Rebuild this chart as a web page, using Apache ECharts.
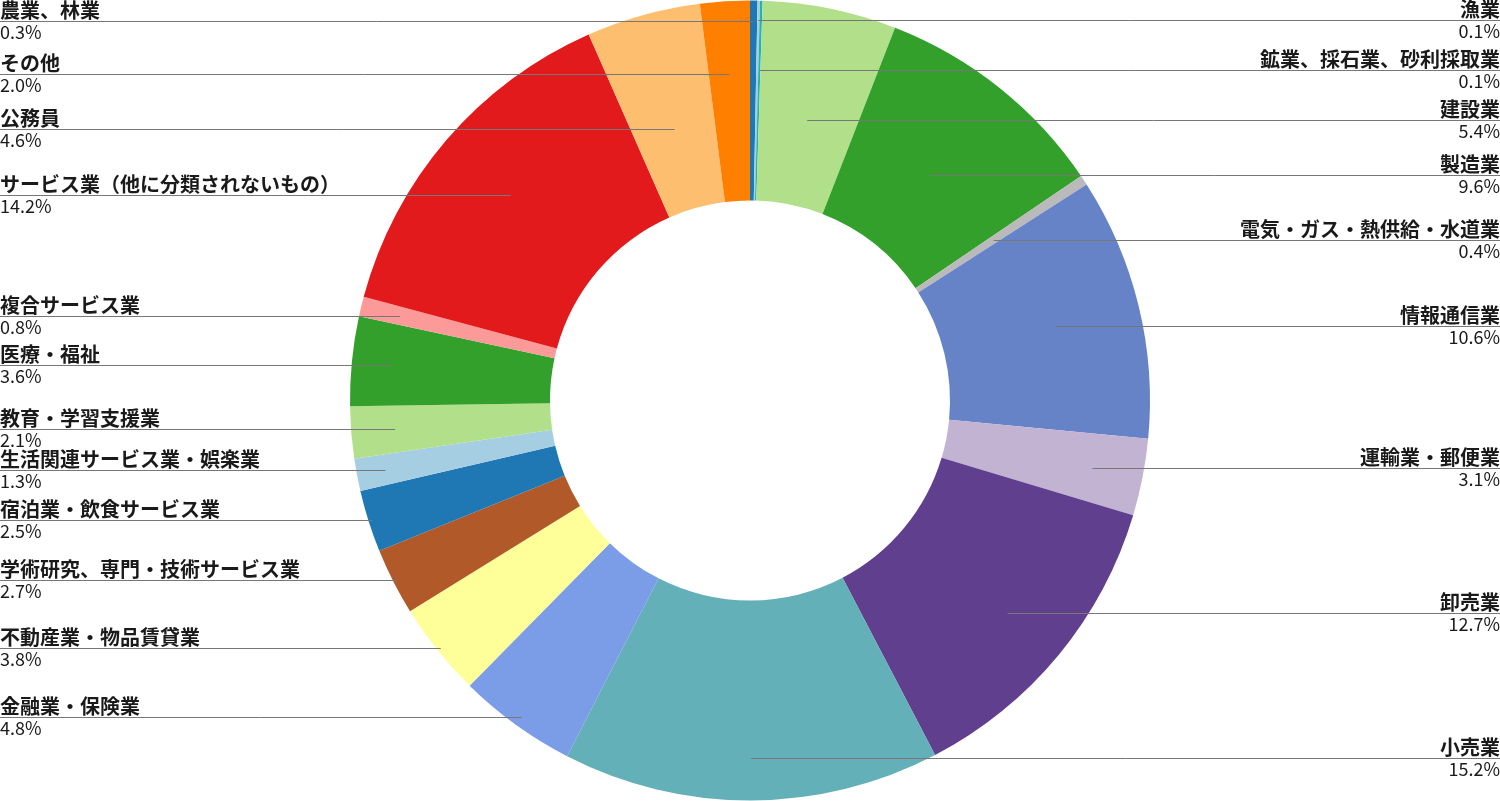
<!DOCTYPE html>
<html>
<head>
<meta charset="utf-8">
<script src="https://cdn.jsdelivr.net/npm/echarts@6/dist/echarts.min.js"></script>
<style>
html,body{margin:0;padding:0;background:#fff;}
#main{width:1500px;height:801px;}
</style>
</head>
<body>
<div id="main"></div>
<script>
// categories (clockwise from 12 o'clock)
const categories = [
  '農業、林業', '漁業', '鉱業、採石業、砂利採取業', '建設業', '製造業',
  '電気・ガス・熱供給・水道業', '情報通信業', '運輸業・郵便業', '卸売業', '小売業',
  '金融業・保険業', '不動産業・物品賃貸業', '学術研究、専門・技術サービス業',
  '宿泊業・飲食サービス業', '生活関連サービス業・娯楽業', '教育・学習支援業',
  '医療・福祉', '複合サービス業', 'サービス業（他に分類されないもの）', '公務員', 'その他'
];
// shares (%)
const shares = [
  0.3, 0.1, 0.1, 5.4, 9.6,
  0.4, 10.6, 3.1, 12.7, 15.2,
  4.8, 3.8, 2.7,
  2.5, 1.3, 2.1,
  3.6, 0.8, 14.2, 4.6, 2.0
];
// slice colours
const colors = [
  '#1f78b4', '#a6cee3', '#1fb5b0', '#b2df8a', '#33a02c',
  '#bababa', '#6683c8', '#c3b3d2', '#613f8f', '#64b0b8',
  '#7b9de8', '#ffff99', '#b15928',
  '#1f78b4', '#a6cee3', '#b2df8a',
  '#33a02c', '#fb9a99', '#e31a1c', '#fdbf6f', '#ff7f00'
];
// label layout: side and leader-line anchor radius (px)
const labelSide = ['L','R','R','R','R','R','R','R','R','R','L','L','L','L','L','L','L','L','L','L','L'];
const anchorRadius = [380, 381, 331, 286, 288, 292, 315, 349, 334, 358, 390, 396, 396, 396, 371, 356, 360, 360, 315, 282, 327];

const W = 1500, H = 801;
const CX = W / 2, CY = H / 2;
const total = shares.reduce((a, b) => a + b, 0);

function anchorPoint(i) {
  let cum = 0;
  for (let k = 0; k < i; k++) cum += shares[k];
  const mid = (cum + shares[i] / 2) / total * 2 * Math.PI;
  const r = anchorRadius[i];
  return [CX + r * Math.sin(mid), CY - r * Math.cos(mid)];
}

const pieBase = {
  type: 'pie',
  center: [CX, CY],
  radius: [200, 400],
  startAngle: 90,
  clockwise: true,
  avoidLabelOverlap: false,
  minShowLabelAngle: 0,
  emphasis: { disabled: true },
  silent: true
};

const chart = echarts.init(document.getElementById('main'));
chart.setOption({
  animation: false,
  backgroundColor: '#ffffff',
  series: [
    Object.assign({}, pieBase, {
      z: 1,
      itemStyle: { borderWidth: 0 },
      data: categories.map((n, i) => ({
        name: n, value: shares[i], itemStyle: { color: colors[i] }
      })),
      label: { show: false },
      labelLine: { show: false }
    }),
    Object.assign({}, pieBase, {
      z: 5,
      itemStyle: { color: 'rgba(0,0,0,0)', borderWidth: 0 },
      data: categories.map((n, i) => ({ name: n, value: shares[i] })),
      label: {
        show: true,
        position: 'outer',
        alignTo: 'none',
        formatter: p => '{n|' + p.name + '}\n{v|' + shares[p.dataIndex].toFixed(1) + '%}',
        rich: {
          n: { fontFamily: '"Noto Sans CJK JP"', fontSize: 20, fontWeight: 'bold', color: '#1a1a1a', lineHeight: 22 },
          v: { fontFamily: '"Noto Sans CJK JP"', fontSize: 18, color: '#1a1a1a', lineHeight: 22 }
        }
      },
      labelLine: {
        show: true,
        showAbove: true,
        length: 0,
        length2: 0,
        smooth: false,
        lineStyle: { color: '#777777', width: 1 }
      },
      labelLayout: function (params) {
        const i = params.dataIndex;
        const pt = anchorPoint(i);
        const left = labelSide[i] === 'L';
        const ex = left ? 0 : W;
        const ay = Math.round(pt[1]) + 0.5;
        return {
          x: ex,
          y: ay,
          align: left ? 'left' : 'right',
          verticalAlign: 'middle',
          labelLinePoints: [[pt[0], ay], [ex, ay], [ex, ay]]
        };
      }
    })
  ]
});
</script>
</body>
</html>
